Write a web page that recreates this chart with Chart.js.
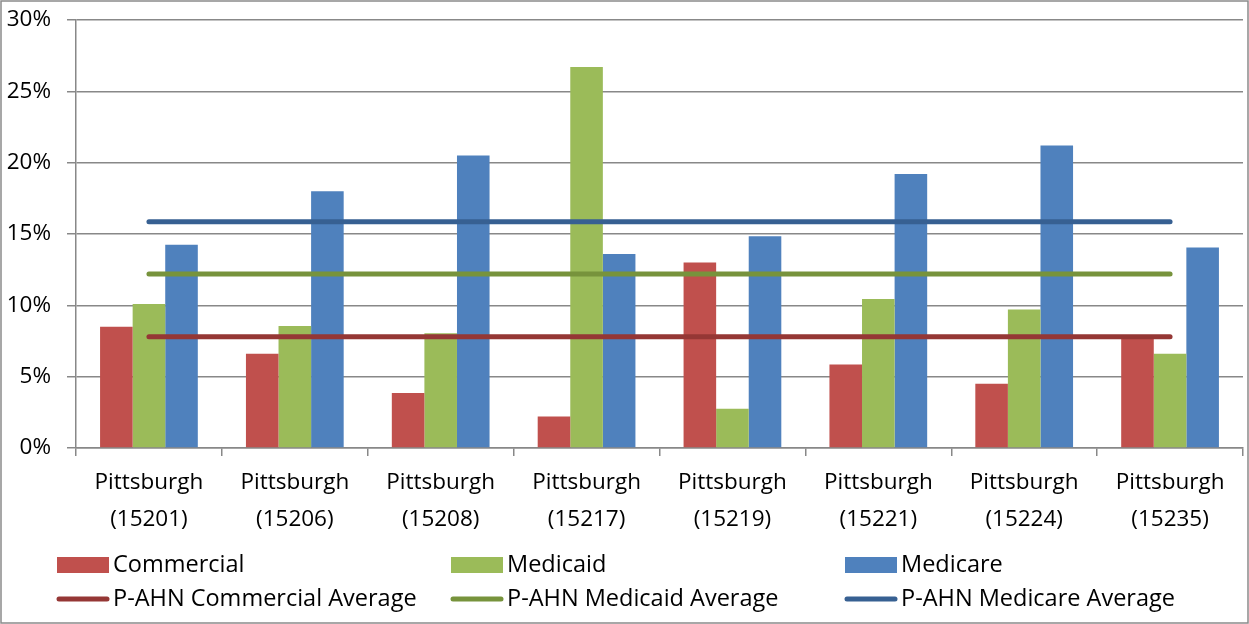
<!DOCTYPE html>
<html>
<head>
<meta charset="utf-8">
<script src="https://cdn.jsdelivr.net/npm/chart.js@4/dist/chart.umd.min.js"></script>
<style>
  html, body { margin: 0; padding: 0; background: #fff; }
  #wrap { position: relative; width: 1249px; height: 624px; }
</style>
</head>
<body>
<div id="wrap"><canvas id="c"></canvas></div>
<script>
const categories = [
  ['Pittsburgh', '(15201)'], ['Pittsburgh', '(15206)'], ['Pittsburgh', '(15208)'], ['Pittsburgh', '(15217)'],
  ['Pittsburgh', '(15219)'], ['Pittsburgh', '(15221)'], ['Pittsburgh', '(15224)'], ['Pittsburgh', '(15235)']
];
const commercial = [8.5, 6.6, 3.85, 2.2, 13.0, 5.85, 4.5, 7.8];
const medicaid   = [10.1, 8.55, 8.05, 26.7, 2.75, 10.45, 9.7, 6.6];
const medicare   = [14.25, 18.0, 20.5, 13.6, 14.85, 19.2, 21.2, 14.05];
const commercialAvg = [7.8, 7.8, 7.8, 7.8, 7.8, 7.8, 7.8, 7.8];
const medicaidAvg   = [12.2, 12.2, 12.2, 12.2, 12.2, 12.2, 12.2, 12.2];
const medicareAvg   = [15.85, 15.85, 15.85, 15.85, 15.85, 15.85, 15.85, 15.85];
const yTicks = [0, 5, 10, 15, 20, 25, 30];

const FONT = "'Open Sans', 'DejaVu Sans', sans-serif";
const GRID = '#888888';

const legendPlugin = {
  id: 'gridLegend',
  afterDraw(chart) {
    const ctx = chart.ctx;
    const ds = chart.data.datasets;
    ctx.save();
    ctx.strokeStyle = '#8a8a8a';
    ctx.lineWidth = 1.5;
    ctx.strokeRect(1, 1, chart.width - 2, chart.height - 2);
    ctx.restore();

    const colX = [57, 451, 845];
    const rowY = [565, 599];
    ctx.save();
    ctx.font = '23.5px ' + FONT;
    ctx.textBaseline = 'middle';
    ds.forEach((d, i) => {
      const x = colX[i % 3];
      const y = rowY[Math.floor(i / 3)];
      if (d.type === 'line') {
        ctx.strokeStyle = d.borderColor;
        ctx.lineWidth = 5;
        ctx.lineCap = 'round';
        ctx.beginPath();
        ctx.moveTo(x + 2, y);
        ctx.lineTo(x + 50, y);
        ctx.stroke();
      } else {
        ctx.fillStyle = d.backgroundColor;
        ctx.fillRect(x, y - 8, 52, 16);
      }
      ctx.fillStyle = '#000';
      ctx.fillText(d.label, x + 56, y);
    });
    ctx.restore();
  }
};

new Chart(document.getElementById('c'), {
  data: {
    labels: categories,
    datasets: [
      { type: 'bar', label: 'Commercial', data: commercial, backgroundColor: '#C0504D', order: 2 },
      { type: 'bar', label: 'Medicaid', data: medicaid, backgroundColor: '#9BBB59', order: 2 },
      { type: 'bar', label: 'Medicare', data: medicare, backgroundColor: '#4F81BD', order: 2 },
      { type: 'line', label: 'P-AHN Commercial Average', data: commercialAvg, borderColor: '#953735', borderWidth: 5, borderCapStyle: 'round', pointRadius: 0, order: 1 },
      { type: 'line', label: 'P-AHN Medicaid Average', data: medicaidAvg, borderColor: '#77933C', borderWidth: 5, borderCapStyle: 'round', pointRadius: 0, order: 1 },
      { type: 'line', label: 'P-AHN Medicare Average', data: medicareAvg, borderColor: '#376092', borderWidth: 5, borderCapStyle: 'round', pointRadius: 0, order: 1 }
    ]
  },
  options: {
    responsive: true,
    maintainAspectRatio: false,
    animation: false,
    datasets: { bar: { categoryPercentage: 0.67, barPercentage: 1.0 } },
    layout: { padding: { top: 20, right: 6, left: 0, bottom: 0 } },
    plugins: { legend: { display: false }, tooltip: { enabled: false } },
    scales: {
      x: {
        offset: true,
        grid: { offset: true, drawOnChartArea: false, drawTicks: true, tickLength: 8, color: GRID, lineWidth: 1.5 },
        border: { color: GRID, width: 1.5 },
        ticks: { color: '#000', font: { family: FONT, size: 22.5, lineHeight: 1.64 }, padding: 8, maxRotation: 0, autoSkip: false },
        afterFit(scale) { scale.height = 176; scale.paddingLeft = 0; scale.paddingRight = 0; }
      },
      y: {
        min: 0, max: 30,
        afterBuildTicks(scale) { scale.ticks = yTicks.map(v => ({ value: v })); },
        grid: { color: GRID, lineWidth: 1.5, tickLength: 9 },
        border: { color: GRID, width: 1.5 },
        ticks: { color: '#000', font: { family: FONT, size: 22.5 }, padding: 16, callback: v => v + '%' },
        afterFit(scale) { scale.width = 76; scale.paddingTop = 0; scale.paddingBottom = 0; }
      }
    }
  },
  plugins: [legendPlugin]
});
</script>
</body>
</html>
